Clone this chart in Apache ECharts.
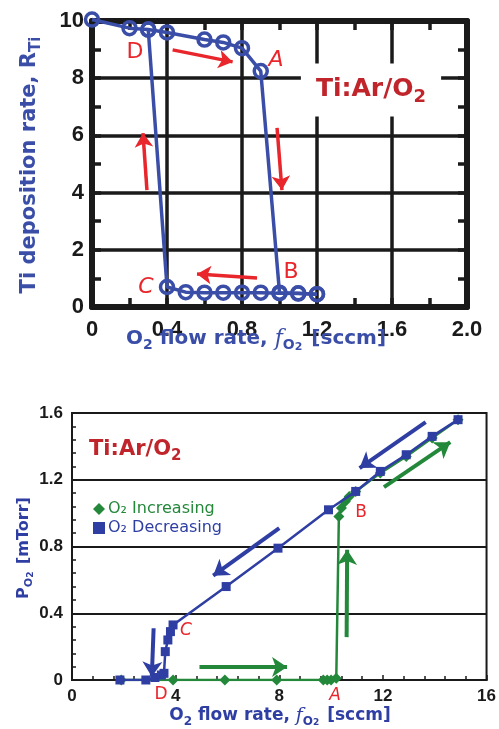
<!DOCTYPE html>
<html>
<head>
<meta charset="utf-8">
<script src="https://cdn.jsdelivr.net/npm/echarts@6/dist/echarts.min.js"></script>
<style>
  html, body { margin: 0; padding: 0; background: #ffffff; }
  #chart { width: 499px; height: 729px; }
</style>
</head>
<body>
<div id="chart"></div>
<script>
// ---- Upper panel: Ti deposition rate vs O2 flow (sccm) ----
const rateIncFlow = [0, 0.2, 0.3, 0.4, 0.6, 0.7, 0.8, 0.9, 1.0, 1.1, 1.2];
const rateIncValue = [10.05, 9.75, 9.7, 9.6, 9.35, 9.25, 9.05, 8.25, 0.5, 0.48, 0.45];
const rateDecFlow = [1.2, 1.1, 1.0, 0.9, 0.8, 0.7, 0.6, 0.5, 0.4, 0.3];
const rateDecValue = [0.45, 0.47, 0.48, 0.5, 0.5, 0.5, 0.5, 0.52, 0.7, 9.7];
const rateXTicks = [0, 0.4, 0.8, 1.2, 1.6, 2.0];
const rateYTicks = [0, 2, 4, 6, 8, 10];

// ---- Lower panel: O2 partial pressure vs O2 flow (sccm) ----
const presIncFlow = [1.9, 3.9, 5.9, 7.9, 9.7, 9.85, 10.0, 10.2, 10.3, 10.4, 10.55, 10.7, 10.95, 11.9, 12.9, 13.9, 14.9];
const presIncValue = [0, 0, 0, 0, 0, 0, 0, 0.01, 0.98, 1.03, 1.07, 1.1, 1.13, 1.24, 1.34, 1.45, 1.56];
const presDecFlow = [14.9, 13.9, 12.9, 11.9, 10.95, 9.9, 7.95, 5.95, 3.9, 3.8, 3.7, 3.6, 3.55, 3.45, 3.2, 2.85, 1.85];
const presDecValue = [1.56, 1.46, 1.35, 1.25, 1.13, 1.02, 0.79, 0.56, 0.33, 0.29, 0.24, 0.17, 0.04, 0.03, 0.015, 0, 0];
const presXTicks = [0, 4, 8, 12, 16];
const presYTicks = [0, 0.4, 0.8, 1.2, 1.6];

// Direction arrows, in data units: [x1, y1, x2, y2]
const rateArrows = [
  [0.43, 8.99, 0.75, 8.57],
  [0.987, 6.26, 1.013, 4.09],
  [0.88, 1.01, 0.56, 1.15],
  [0.293, 4.09, 0.272, 6.08]
];
const presIncArrows = [
  [4.92, 0.078, 8.3, 0.078],
  [10.6, 0.257, 10.62, 0.78],
  [12.04, 1.156, 14.6, 1.425]
];
const presDecArrows = [
  [13.65, 1.545, 11.1, 1.27],
  [8.0, 0.91, 5.45, 0.625],
  [3.15, 0.31, 3.08, 0.02]
];

const zip = (xs, ys) => xs.map((x, i) => [x, ys[i]]);
const arrowData = list => list.map(a => ({ coords: [[a[0], a[1]], [a[2], a[3]]] }));

const INK = '#1a1a1a';
const BLUE_TOP = '#3a4ea8';
const BLUE = '#2f3ea3';
const GREEN = '#24883b';
const RED = '#e8262b';
const DARK_RED = '#c0252c';
const TICK_FONT = 'Liberation Sans, Arial, sans-serif';
const TITLE_FONT = 'DejaVu Sans, Open Sans, sans-serif';

// thick frame axis of the upper panel; ticks every half grid step, pointing inward
function frameAxis(extra) {
  return Object.assign({
    type: 'value',
    axisLine: { onZero: false, lineStyle: { color: INK, width: 6 } },
    axisTick: { show: true, inside: true, length: 9, lineStyle: { color: INK, width: 3.5 } },
    minorTick: { show: true, splitNumber: 2, length: 9, lineStyle: { color: INK, width: 3.5 } },
    splitLine: { show: false },
    axisLabel: { show: false }
  }, extra);
}

// rich-text styles with subscripts at a given base size
function richSet(color, size, weight) {
  const lh = Math.round(size * 1.35);
  return {
    a: { fill: color, fontSize: size, fontWeight: weight, fontFamily: TITLE_FONT, lineHeight: lh },
    f: { fill: color, fontSize: size + 2, fontStyle: 'italic', fontFamily: 'DejaVu Serif, serif', lineHeight: lh },
    s: { fill: color, fontSize: Math.round(size * 0.7), fontWeight: weight, fontFamily: TITLE_FONT, lineHeight: Math.round(size * 0.75), verticalAlign: 'bottom' },
    t: { fill: color, fontSize: Math.round(size * 0.55), fontWeight: weight, fontFamily: TITLE_FONT, lineHeight: Math.round(size * 0.45), verticalAlign: 'bottom', padding: [0, 2, 0, 0] }
  };
}

const chart = echarts.init(document.getElementById('chart'), null, { renderer: 'canvas' });

const openCircle = { color: 'rgba(255,255,255,0)', borderColor: BLUE_TOP, borderWidth: 3.5 };

const option = {
  animation: false,
  backgroundColor: '#ffffff',
  grid: [
    { left: 92, top: 21, width: 375, height: 286, show: false },
    { left: 72, top: 413, width: 416, height: 267, show: true, borderColor: INK, borderWidth: 2, backgroundColor: 'transparent' }
  ],
  xAxis: [
    frameAxis({
      gridIndex: 0, min: rateXTicks[0], max: rateXTicks[rateXTicks.length - 1], interval: 0.4, position: 'bottom',
      splitLine: { show: true, lineStyle: { color: INK, width: 3.5 } },
      axisLabel: {
        show: true, margin: 12, color: INK, fontSize: 22, fontWeight: 'bold', fontFamily: TICK_FONT,
        formatter: v => (v === 0 ? '0' : v.toFixed(1))
      }
    }),
    frameAxis({ gridIndex: 0, min: 0, max: 2, interval: 0.2, position: 'top', minorTick: { show: false } }),
    {
      gridIndex: 1, type: 'value', min: presXTicks[0], max: presXTicks[presXTicks.length - 1], interval: 4, position: 'bottom',
      axisLine: { onZero: false, lineStyle: { color: INK, width: 2 } },
      axisTick: { show: true, inside: true, length: 5, lineStyle: { color: INK, width: 1.5 } },
      minorTick: { show: true, splitNumber: 5, length: 4, lineStyle: { color: INK, width: 1.5 } },
      splitLine: { show: false },
      axisLabel: { margin: 8, color: INK, fontSize: 17, fontWeight: 'bold', fontFamily: TICK_FONT }
    }
  ],
  yAxis: [
    frameAxis({
      gridIndex: 0, min: rateYTicks[0], max: rateYTicks[rateYTicks.length - 1], interval: 2, position: 'left',
      splitLine: { show: true, lineStyle: { color: INK, width: 3.5 } },
      axisLabel: { show: true, margin: 8, color: INK, fontSize: 22, fontWeight: 'bold', fontFamily: TICK_FONT }
    }),
    frameAxis({ gridIndex: 0, min: 0, max: 10, interval: 1, position: 'right', minorTick: { show: false } }),
    {
      gridIndex: 1, type: 'value', min: presYTicks[0], max: presYTicks[presYTicks.length - 1], interval: 0.4, position: 'left',
      axisLine: { onZero: false, lineStyle: { color: INK, width: 2 } },
      axisTick: { show: true, inside: true, length: 5, lineStyle: { color: INK, width: 1.5 } },
      minorTick: { show: true, splitNumber: 5, length: 4, lineStyle: { color: INK, width: 1.5 } },
      splitLine: { show: true, lineStyle: { color: INK, width: 2 } },
      axisLabel: {
        margin: 9, color: INK, fontSize: 17, fontWeight: 'bold', fontFamily: TICK_FONT,
        formatter: v => (v === 0 ? '0' : v.toFixed(1))
      }
    }
  ],
  legend: {
    orient: 'vertical', left: 88, top: 496, itemGap: 3, itemWidth: 12, itemHeight: 12,
    data: [
      { name: 'O₂ Increasing', icon: 'diamond', textStyle: { color: GREEN } },
      { name: 'O₂ Decreasing', icon: 'rect', textStyle: { color: BLUE } }
    ],
    textStyle: { fontSize: 16, fontFamily: TITLE_FONT, padding: [0, 0, 0, -2] },
    selectedMode: false
  },
  series: [
    {
      name: 'Rate increasing', type: 'line', xAxisIndex: 0, yAxisIndex: 0, clip: false,
      data: zip(rateIncFlow, rateIncValue),
      symbol: 'circle', symbolSize: 13, z: 5,
      lineStyle: { color: BLUE_TOP, width: 3.5 },
      itemStyle: openCircle
    },
    {
      name: 'Rate decreasing', type: 'line', xAxisIndex: 0, yAxisIndex: 0, clip: false,
      data: zip(rateDecFlow, rateDecValue),
      symbol: 'circle', symbolSize: 13, z: 5,
      lineStyle: { color: BLUE_TOP, width: 3.5 },
      itemStyle: openCircle
    },
    {
      name: 'Rate arrows', type: 'lines', coordinateSystem: 'cartesian2d', xAxisIndex: 0, yAxisIndex: 0,
      data: arrowData(rateArrows), symbol: ['none', 'arrow'], symbolSize: [0, 14], z: 6,
      lineStyle: { color: RED, width: 3.5, opacity: 1, curveness: 0 }
    },
    {
      name: 'O₂ Increasing', type: 'line', xAxisIndex: 2, yAxisIndex: 2,
      data: zip(presIncFlow, presIncValue),
      symbol: 'diamond', symbolSize: 11, z: 4,
      lineStyle: { color: GREEN, width: 2.5 },
      itemStyle: { color: GREEN }
    },
    {
      name: 'O₂ Decreasing', type: 'line', xAxisIndex: 2, yAxisIndex: 2,
      data: zip(presDecFlow, presDecValue),
      symbol: 'rect', symbolSize: 9, z: 5,
      lineStyle: { color: BLUE, width: 2.5 },
      itemStyle: { color: BLUE }
    },
    {
      name: 'Increase arrows', type: 'lines', coordinateSystem: 'cartesian2d', xAxisIndex: 2, yAxisIndex: 2,
      data: arrowData(presIncArrows), symbol: ['none', 'arrow'], symbolSize: [0, 15], z: 6,
      lineStyle: { color: GREEN, width: 4, opacity: 1, curveness: 0 }
    },
    {
      name: 'Decrease arrows', type: 'lines', coordinateSystem: 'cartesian2d', xAxisIndex: 2, yAxisIndex: 2,
      data: arrowData(presDecArrows), symbol: ['none', 'arrow'], symbolSize: [0, 15], z: 6,
      lineStyle: { color: BLUE, width: 4, opacity: 1, curveness: 0 }
    }
  ],
  graphic: [
    // upper panel titles
    {
      type: 'text', x: 30, y: 165, rotation: Math.PI / 2, z: 10,
      style: { text: '{a|Ti deposition rate, R}{s|Ti}', align: 'center', verticalAlign: 'middle', rich: richSet(BLUE_TOP, 21, 'bold') }
    },
    {
      type: 'text', x: 256, y: 339, z: 10,
      style: { text: '{a|O}{s|2}{a| flow rate, }{f|f}{s|O}{t|2}{a| [sccm]}', align: 'center', verticalAlign: 'middle', rich: richSet(BLUE_TOP, 20, 'bold') }
    },
    {
      type: 'text', x: 371, y: 90, z: 10,
      style: {
        text: '{a|Ti:Ar/O}{s|2}', align: 'center', verticalAlign: 'middle',
        backgroundColor: '#ffffff', padding: [9, 15, 10, 15],
        rich: richSet(DARK_RED, 25, 'bold')
      }
    },
    { type: 'text', x: 135, y: 52, z: 10, style: { text: 'D', fill: RED, fontSize: 22, fontFamily: TITLE_FONT, align: 'center', verticalAlign: 'middle' } },
    { type: 'text', x: 276, y: 60, z: 10, style: { text: 'A', fill: RED, fontSize: 22, fontFamily: TITLE_FONT, fontStyle: 'italic', align: 'center', verticalAlign: 'middle' } },
    { type: 'text', x: 291, y: 272, z: 10, style: { text: 'B', fill: RED, fontSize: 22, fontFamily: TITLE_FONT, align: 'center', verticalAlign: 'middle' } },
    { type: 'text', x: 146, y: 287, z: 10, style: { text: 'C', fill: RED, fontSize: 22, fontFamily: TITLE_FONT, fontStyle: 'italic', align: 'center', verticalAlign: 'middle' } },

    // lower panel titles
    {
      type: 'text', x: 24, y: 548, rotation: Math.PI / 2, z: 10,
      style: { text: '{a|P}{s|O}{t|2}{a| [mTorr]}', align: 'center', verticalAlign: 'middle', rich: richSet(BLUE, 16, 'bold') }
    },
    {
      type: 'text', x: 280, y: 716, z: 10,
      style: { text: '{a|O}{s|2}{a| flow rate, }{f|f}{s|O}{t|2}{a| [sccm]}', align: 'center', verticalAlign: 'middle', rich: richSet(BLUE, 17, 'bold') }
    },
    {
      type: 'text', x: 89, y: 450, z: 10,
      style: { text: '{a|Ti:Ar/O}{s|2}', align: 'left', verticalAlign: 'middle', rich: richSet(DARK_RED, 21, 'bold') }
    },
    { type: 'text', x: 361, y: 513, z: 10, style: { text: 'B', fill: RED, fontSize: 17, fontFamily: TITLE_FONT, align: 'center', verticalAlign: 'middle' } },
    { type: 'text', x: 186, y: 631, z: 10, style: { text: 'C', fill: RED, fontSize: 17, fontFamily: TITLE_FONT, fontStyle: 'italic', align: 'center', verticalAlign: 'middle' } },
    { type: 'text', x: 161, y: 695, z: 10, style: { text: 'D', fill: RED, fontSize: 17, fontFamily: TITLE_FONT, align: 'center', verticalAlign: 'middle' } },
    { type: 'text', x: 335, y: 696, z: 10, style: { text: 'A', fill: RED, fontSize: 17, fontFamily: TITLE_FONT, fontStyle: 'italic', align: 'center', verticalAlign: 'middle' } }
  ]
};

chart.setOption(option);
</script>
</body>
</html>
